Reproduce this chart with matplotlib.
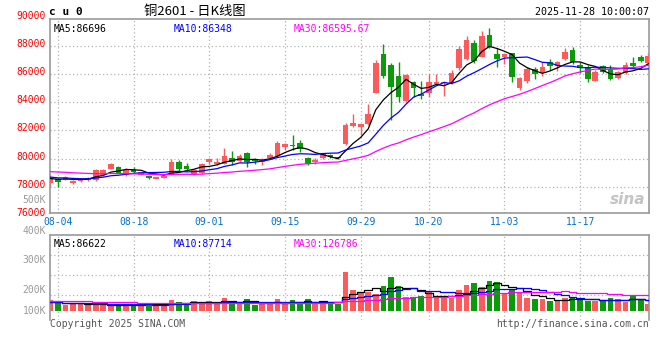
import numpy as np
import pandas as pd
import matplotlib
matplotlib.use("Agg")
import matplotlib.pyplot as plt

# cu2601 daily candles, 2025-08-01 .. 2025-11-28 (last bar intraday)
opens = [78239, 78524, 78476, 78239, 78405, 78476, 78476, 78832, 79256, 79423,
         78832, 79187, 78832, 78784, 78547, 78642, 78879, 79730, 79470, 78879,
         78997, 79732, 79637, 79590, 80040, 79850, 80395, 79897, 79779, 80016,
         80182, 80798, 80963, 81105, 80040, 79732, 80040, 80253, 80087, 81011,
         82314, 82267, 82433, 84636, 87431, 86650, 85868, 84091, 85465, 84589,
         84683, 85276, 85347, 85347, 86460, 87052, 88237, 87242, 88782, 87431,
         87200, 87479, 85039, 85513, 86342, 86057, 86839, 86602, 87076, 87716,
         86650, 86484, 85536, 86579, 86365, 85749, 86105, 86815, 87242, 86815]
closes = [78524, 78358, 78689, 78429, 78571, 78642, 79187, 79187, 79588, 78997,
          79187, 79044, 79021, 78595, 78666, 78784, 79777, 79232, 79232, 79187,
          79613, 79945, 79779, 80182, 79755, 80205, 79732, 79826, 79921, 80253,
          81105, 81034, 80892, 80679, 79613, 79897, 80348, 80087, 80016, 82385,
          82551, 82456, 83144, 86815, 85892, 85110, 84399, 85939, 85039, 84447,
          85465, 85465, 85465, 86105, 87787, 88426, 86958, 88734, 87953, 87052,
          87430, 85773, 85702, 86342, 85987, 86484, 86602, 86839, 87550, 86887,
          86460, 85655, 86176, 86128, 85655, 86176, 86650, 86602, 86958, 87313]
highs = [78879, 78595, 78737, 78476, 78642, 78700, 79258, 79234, 79660, 79470,
         79305, 79375, 79070, 78832, 78700, 78810, 79966, 79895, 79660, 79234,
         79707, 80063, 80063, 80774, 80537, 80300, 80490, 80063, 80016, 80371,
         81248, 81082, 81650, 81319, 80087, 80016, 80400, 80324, 80134, 82550,
         83144, 82480, 83878, 87005, 88142, 86768, 86839, 85987, 85513, 85513,
         86010, 86010, 85490, 86294, 88000, 88734, 88426, 89066, 89303, 87834,
         87530, 87526, 85773, 86531, 86531, 86887, 87052, 86958, 87834, 87953,
         86887, 86650, 86294, 86650, 86650, 86247, 86887, 87242, 87360, 87479]
lows = [78002, 78002, 78453, 78168, 78358, 78420, 78429, 78784, 79232, 78950,
        78784, 78950, 78800, 78524, 78524, 78620, 78832, 79070, 79187, 78832,
        78879, 79590, 79542, 79590, 79542, 79732, 79424, 79590, 79542, 79968,
        80134, 80608, 80608, 80490, 79542, 79613, 79992, 80016, 79968, 80940,
        82267, 81675, 82385, 84636, 85749, 82741, 84044, 84044, 84399, 84257,
        84399, 85228, 84447, 85300, 86294, 87005, 86768, 87195, 87834, 86531,
        86720, 85465, 84873, 85394, 85631, 85868, 86294, 86247, 87005, 86697,
        86057, 85465, 85489, 86057, 85584, 85678, 86010, 86531, 86887, 86579]
volumes = [86, 67, 46, 59, 59, 54, 46, 46, 46, 46,
           54, 54, 46, 54, 46, 54, 87, 70, 63, 78,
           63, 78, 54, 102, 78, 54, 95, 46, 54, 70,
           95, 54, 87, 63, 95, 67, 67, 67, 54, 316,
           167, 141, 154, 135, 200, 276, 200, 113, 113, 121,
           154, 106, 106, 106, 167, 208, 227, 195, 241, 232,
           141, 167, 141, 106, 95, 95, 78, 78, 106, 106,
           95, 81, 81, 81, 106, 95, 73, 119, 95, 54]  # thousand lots

# July values, only used to warm up the moving averages
pre_closes = [79100, 79300, 79500, 79200, 79400, 79600, 79300, 79100, 79200, 79400,
              79500, 79300, 79100, 79000, 79200, 79300, 79100, 79200, 79300, 79120,
              78900, 78800, 78700, 78800, 78700, 78650, 78550, 78600, 78600]
pre_volumes = [85, 88, 82, 86, 84, 90, 83, 85, 87, 84,
               86, 82, 85, 88, 84, 86, 83, 85, 84, 86,
               66, 64, 68, 63, 66, 65, 67, 64, 66]

date_ticks = [1, 11, 21, 31, 41, 50, 60, 70]
date_labels = ["08-04", "08-18", "09-01", "09-15", "09-29", "10-20", "11-03", "11-17"]
price_ticks = [76000, 78000, 80000, 82000, 84000, 86000, 88000, 90000]
vol_labels = ["500K", "400K", "300K", "200K", "100K"]
vol_label_px = [200, 231, 260, 290, 311]

W, H = 660, 360
UP = "#ff5a5a"
DOWN = "#0a9a0a"
GRID = "#b4b4b4"
FRAME = "#999999"
MONO = "DejaVu Sans Mono"


def fx(px):
    return px / W


def fy(py):
    return 1 - py / H


def ma(vals, pre, n):
    s = pd.Series(list(pre) + list(vals), dtype=float)
    return s.rolling(n).mean().values[len(pre):]


o = np.array(opens, float)
c = np.array(closes, float)
hi = np.array(highs, float)
lo = np.array(lows, float)
vol = np.array(volumes, float) * 1000
idx = np.arange(len(c))
up = c >= o
colors = np.where(up, UP, DOWN)

fig = plt.figure(figsize=(W / 100, H / 100), dpi=100)
fig.patch.set_facecolor("white")

# main price panel
ax = fig.add_axes([fx(50), fy(213), fx(599), 194 / H])
ax.set_xlim(-0.04, 79.09)
ax.set_ylim(76131, 89919)

for v in price_ticks[1:-1]:
    ax.axhline(v, color=GRID, lw=0.9, ls=(0, (1, 2)), zorder=0)
for t in date_ticks:
    ax.axvline(t, color=GRID, lw=0.9, ls=(0, (1, 2)), zorder=0)

ax.vlines(idx, lo, hi, colors=colors, lw=1.0, zorder=2)
body_h = np.maximum(np.abs(c - o), 40)
ax.bar(idx, body_h, bottom=np.minimum(o, c), width=0.75, color=colors, lw=0, zorder=3)

ax.plot(idx, ma(c, pre_closes, 5), color="black", lw=0.9, zorder=4)
ax.plot(idx, ma(c, pre_closes, 10), color="#0000ff", lw=0.9, zorder=4)
ax.plot(idx, ma(c, pre_closes, 30), color="#ff00ff", lw=0.9, zorder=4)

ax.set_xticks([])
ax.set_yticks([])
for sp in ax.spines.values():
    sp.set_color(FRAME)
    sp.set_linewidth(1.2)

for v in price_ticks:
    ax.annotate(str(v), xy=(0, v), xycoords=("axes fraction", "data"),
                xytext=(-4, 2), textcoords="offset pixels", ha="right", va="center",
                color="#ff0000", fontsize=7, family=MONO, annotation_clip=False)
for t, lbl in zip(date_ticks, date_labels):
    ax.annotate(lbl, xy=(t, 0), xycoords=("data", "axes fraction"),
                xytext=(0, -9), textcoords="offset pixels", ha="center", va="center",
                color="#0070d0", fontsize=7, family=MONO, annotation_clip=False)

ax.text(fx(54 - 50) / fx(599), 0.975, "MA5:86696", transform=ax.transAxes,
        color="black", fontsize=7, family=MONO, va="top")
ax.text(fx(174 - 50) / fx(599), 0.975, "MA10:86348", transform=ax.transAxes,
        color="#0000ff", fontsize=7, family=MONO, va="top")
ax.text(fx(294 - 50) / fx(599), 0.975, "MA30:86595.67", transform=ax.transAxes,
        color="#ff00ff", fontsize=7, family=MONO, va="top")

# sina watermark
ax.text(0.965, 0.07, "sina", transform=ax.transAxes, ha="center", va="center",
        color="#c4c4c4", fontsize=11, fontweight="bold", style="italic", zorder=1)

# volume panel
axv = fig.add_axes([fx(50), fy(320), fx(599), (320 - 234.5) / H])
axv.set_xlim(-0.04, 79.09)
px_k = 8100
axv.set_ylim(-9.3 * px_k, (310.7 - 234.5) * px_k)
for py in [255, 275, 295]:
    axv.axhline((310.7 - py) * px_k, color=GRID, lw=0.9, ls=(0, (1, 2)), zorder=0)
for t in date_ticks:
    axv.axvline(t, color=GRID, lw=0.9, ls=(0, (1, 2)), zorder=0)
axv.bar(idx, vol, width=0.75, color=colors, lw=0, zorder=2)
pv = np.array(pre_volumes) * 1000
axv.plot(idx, ma(vol, pv, 5), color="black", lw=0.9, drawstyle="steps-mid", zorder=3)
axv.plot(idx, ma(vol, pv, 10), color="#0000ff", lw=0.9, drawstyle="steps-mid", zorder=3)
axv.plot(idx, ma(vol, pv, 30), color="#ff00ff", lw=0.9, drawstyle="steps-mid", zorder=3)
axv.set_xticks([])
axv.set_yticks([])
for sp in axv.spines.values():
    sp.set_color(FRAME)
    sp.set_linewidth(1.2)
axv.spines["bottom"].set_visible(False)

axv.text(fx(54 - 50) / fx(599), 0.95, "MA5:86622", transform=axv.transAxes,
         color="black", fontsize=7, family=MONO, va="top")
axv.text(fx(174 - 50) / fx(599), 0.95, "MA10:87714", transform=axv.transAxes,
         color="#0000ff", fontsize=7, family=MONO, va="top")
axv.text(fx(294 - 50) / fx(599), 0.95, "MA30:126786", transform=axv.transAxes,
         color="#ff00ff", fontsize=7, family=MONO, va="top")

for lbl, py in zip(vol_labels, vol_label_px):
    fig.text(fx(46), fy(py), lbl, ha="right", va="center", color="#9a9a9a",
             fontsize=7, family=MONO)

# header and footer
fig.text(fx(49), fy(12), "c u 0", ha="left", va="center", color="black",
         fontsize=8, fontweight="bold", family=MONO)
fig.text(fx(195), fy(11), "铜2601 - 日K线图", ha="center", va="center", color="black",
         fontsize=9.5, family=["Noto Sans CJK SC", "DejaVu Sans"])
fig.text(fx(649), fy(12), "2025-11-28 10:00:07", ha="right", va="center",
         color="black", fontsize=7.2, family=MONO)
fig.text(fx(50), fy(324), "Copyright 2025 SINA.COM", ha="left", va="center",
         color="#555555", fontsize=7, family=MONO)
fig.text(fx(649), fy(324), "http://finance.sina.com.cn", ha="right", va="center",
         color="#555555", fontsize=7, family=MONO)

fig.savefig("out.png", dpi=100, facecolor="white")
